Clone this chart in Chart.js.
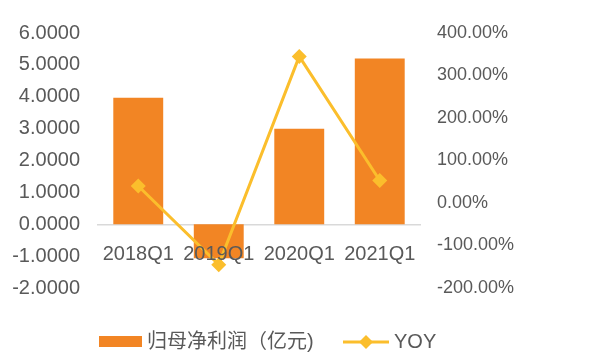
<!DOCTYPE html>
<html>
<head>
<meta charset="utf-8">
<script src="https://cdn.jsdelivr.net/npm/chart.js@4/dist/chart.umd.min.js"></script>
<style>
  html, body { margin: 0; padding: 0; background: #fff; }
  canvas { display: block; }
</style>
</head>
<body>
<canvas id="chartCanvas" width="615" height="354"></canvas>
<script>
const categories = ['2018Q1', '2019Q1', '2020Q1', '2021Q1'];
const profit = [3.97, -1.07, 3.0, 5.2];
const yoy = [40, -145, 345, 53];
const leftTicks = [-2, -1, 0, 1, 2, 3, 4, 5, 6];
const rightTicks = [-200, -100, 0, 100, 200, 300, 400];

const BAR = '#F28524';
const LINE = '#FBBE2C';
const TEXT = '#595959';
const FONT = '"Liberation Sans", Arial, "Noto Sans CJK SC", sans-serif';

// legend drawn by hand so it sits where the original puts it
const legendPlugin = {
  id: 'excelLegend',
  afterDraw(chart) {
    const ctx = chart.ctx;
    const ds = chart.data.datasets;
    const y = 342;
    ctx.save();
    ctx.font = '20px ' + FONT;
    ctx.textBaseline = 'middle';

    ctx.fillStyle = BAR;
    ctx.fillRect(99, 336, 43, 11);
    ctx.fillStyle = TEXT;
    ctx.fillText(ds[0].label, 147, y);

    ctx.strokeStyle = LINE;
    ctx.lineWidth = 3;
    ctx.beginPath();
    ctx.moveTo(343, y);
    ctx.lineTo(389, y);
    ctx.stroke();
    ctx.fillStyle = LINE;
    ctx.beginPath();
    ctx.moveTo(366, y - 7);
    ctx.lineTo(373, y);
    ctx.lineTo(366, y + 7);
    ctx.lineTo(359, y);
    ctx.closePath();
    ctx.fill();
    ctx.fillStyle = TEXT;
    ctx.fillText(ds[1].label, 394, y);
    ctx.restore();
  }
};

const ctx = document.getElementById('chartCanvas').getContext('2d');
new Chart(ctx, {
  data: {
    labels: categories,
    datasets: [{
      type: 'bar',
      label: '归母净利润（亿元)',
      data: profit,
      backgroundColor: BAR,
      yAxisID: 'y',
      barPercentage: 0.62,
      categoryPercentage: 1,
      order: 1
    }, {
      type: 'line',
      label: 'YOY',
      data: yoy,
      yAxisID: 'y1',
      borderColor: LINE,
      backgroundColor: LINE,
      borderWidth: 3,
      tension: 0,
      pointStyle: 'rectRot',
      pointRadius: 7.5,
      pointHoverRadius: 7.5,
      pointBorderWidth: 0,
      order: 0
    }]
  },
  options: {
    responsive: false,
    maintainAspectRatio: false,
    animation: false,
    layout: { padding: { top: 33, bottom: 66, left: 0, right: 0 } },
    plugins: {
      legend: { display: false },
      tooltip: { enabled: false }
    },
    scales: {
      x: {
        position: { y: 0 },
        grid: { display: false, drawTicks: false },
        border: { display: true, color: '#D9D9D9', width: 1.5 },
        ticks: { z: 1, color: TEXT, font: { size: 20, family: FONT }, padding: 18, maxRotation: 0 }
      },
      y: {
        position: 'left',
        min: -2,
        max: 6,
        grid: { display: false, drawTicks: false },
        border: { display: false },
        afterBuildTicks: s => { s.ticks = leftTicks.map(v => ({ value: v })); },
        afterFit: s => { s.width = 98; },
        ticks: {
          color: TEXT,
          font: { size: 20, family: FONT },
          padding: 18,
          callback: v => v.toFixed(4)
        }
      },
      y1: {
        position: 'right',
        min: -200,
        max: 400,
        grid: { display: false, drawTicks: false },
        border: { display: false },
        afterBuildTicks: s => { s.ticks = rightTicks.map(v => ({ value: v })); },
        afterFit: s => { s.width = 195; },
        ticks: {
          color: TEXT,
          font: { size: 18, family: FONT },
          padding: 17,
          callback: v => v.toFixed(2) + '%'
        }
      }
    }
  },
  plugins: [legendPlugin]
});
</script>
</body>
</html>
